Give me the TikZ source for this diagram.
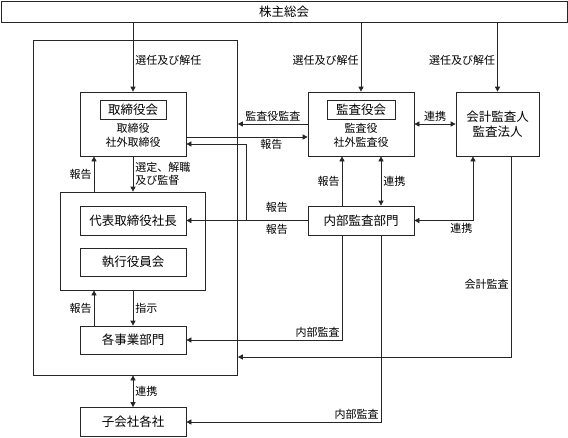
\documentclass[tikz,border=0pt]{standalone}
\usepackage{fontspec}
\setmainfont{Noto Sans CJK JP}
\usetikzlibrary{arrows.meta,positioning}

\begin{document}
\begin{tikzpicture}[x=1pt, y=1pt, line width=.7pt, draw=black!85,
                    >={Triangle[length=5pt,width=5pt]}]
\tikzstyle{box}=[draw, minimum width=106pt, minimum height=29pt,
                 inner sep=0pt, font=\fontsize{12.5}{15}\selectfont]
\tikzstyle{frame}=[draw, inner sep=0pt]
\tikzstyle{members}=[inner sep=0pt, align=center,
                     font=\fontsize{11}{14}\selectfont]
\tikzstyle{lbl}=[inner sep=2pt, font=\fontsize{11}{13}\selectfont]
\useasboundingbox (0,0) rectangle (568,-437);

% boxes
\node[box, minimum width=566pt, minimum height=21pt] (gm) at (284,-12) {株主総会};
\node[frame, minimum width=204pt, minimum height=335pt] (outer) at (135.5,-207.5) {};
\node[frame, minimum width=145pt, minimum height=98pt] (group) at (133,-241) {};

\node[box, minimum height=64pt] (bd) at (133,-124) {};
\node[box, minimum width=66pt, minimum height=19pt, below=8pt of bd.north] (bdT) {取締役会};
\node[members, below=4pt of bdT] (bdM) {取締役\\社外取締役};

\node[box, minimum height=64pt] (ka) at (361,-124) {};
\node[box, minimum width=68pt, minimum height=19pt, below=8pt of ka.north] (kaT) {監査役会};
\node[members, below=4pt of kaT] (kaM) {監査役\\社外監査役};

\node[box, minimum width=83pt, minimum height=64pt, align=center] (aud) at (497.5,-124) {会計監査人\\監査法人};

\node[box] (ceo) at (133,-220.5) {代表取締役社長};
\node[box, minimum height=28pt] (exe) at (133,-262) {執行役員会};
\node[box] (ia) at (361,-220.5) {内部監査部門};
\node[box, minimum height=28pt] (dept) at (133,-340) {各事業部門};
\node[box] (subs) at (133,-422) {子会社各社};

% from the shareholders
\draw[->] (gm.south -| bd.north) -- node[lbl, right, pos=.55] {選任及び解任} (bd.north);
\draw[->] (gm.south -| ka.north) -- node[lbl, left, pos=.55] {選任及び解任} (ka.north);
\draw[->] (gm.south -| aud.north) -- node[lbl, left, pos=.55] {選任及び解任} (aud.north);

% board and executives
\draw[->] (94,0 |- group.north) -- node[lbl, left] {報告} (94,0 |- bd.south);
\draw[->] (bd.south) -- node[lbl, right, align=left] {選定、解職\\及び監督} (group.north);
\draw[->] (94,0 |- dept.north) -- node[lbl, left] {報告} (94,0 |- group.south);
\draw[->] (group.south -| dept.north) -- node[lbl, right] {指示} (dept.north);
\draw[<->] (outer.south -| subs.north) -- node[lbl, right] {連携} (subs.north);

% audit board
\draw[->] (ka.west) -- node[lbl, above] {監査役監査} (ka.west -| outer.east);
\draw[->] (bd.east |- 0,-137) -- node[lbl, below, pos=.7] {報告} (ka.west |- 0,-137);
\draw[<->] (ka.east) -- node[lbl, above] {連携} (aud.west);

% internal audit
\coordinate (jn) at (246,-220.5);
\draw[->] (ia.west) -- node[lbl, above, yshift=6pt] {報告} node[lbl, below, yshift=-1pt] {報告} (jn) -- (ceo.east);
\draw[->] (jn) |- (bd.east |- 0,-144);
\draw[->] (ia.north -| 342,0) -- node[lbl, left] {報告} (ka.south -| 342,0);
\draw[<->] (ka.south -| 381,0) -- node[lbl, right] {連携} (ia.north -| 381,0);
\draw[<->] (ia.east) -| node[lbl, below, pos=.4] {連携} (aud.south -| 473,0);
\draw[->] (ia.south -| 342,0) |- node[lbl, above left] {内部監査} (dept.east);
\draw[->] (ia.south -| 381,0) |- node[lbl, above left] {内部監査} (subs.east);

% accounting audit
\draw[->] (aud.south -| 511,0) |- node[lbl, left, pos=.32] {会計監査} (outer.east |- 0,-357);
\end{tikzpicture}
\end{document}
